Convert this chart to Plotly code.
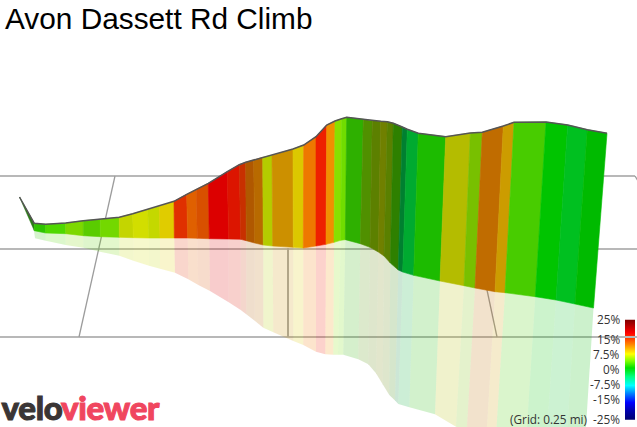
import plotly.graph_objects as go

TITLE = "Avon Dassett Rd Climb"

# Road surface along the top of the wall, one entry per gradient segment edge
top_x = [34.3,45.7,65.7,83.3,100.3,119.3,132.7,147.7,159.3,174,186.7,196.3,208.3,227.3,239.3,245.7,253.7,262.7,272,293,303.7,316,326.7,335,341.7,346.7,363.3,372.3,380.7,387.3,393.3,402.3,407.3,418.3,445.7,470.3,482.3,503.3,514,546,567.7,587.3,607]
top_y = [223.3,224.3,223,220.7,219.3,217.3,213.7,209.3,206.3,201.3,194.3,189.3,183.3,171.7,164.7,162.3,160,157.3,155.3,149,145,136.7,125,121,118.7,117.3,119.3,120.7,121.3,121.7,123.3,127,129.3,133.3,136.7,133,132.3,126,122.3,122,125,129.7,133.3]

# Foot of the wall
base_x = [34.3,45.7,65.7,83.3,100.3,119.3,133.3,149,160,174.3,187.7,197.3,209.3,228.7,240.7,246.3,254.7,263.3,272.7,293.3,303.3,316,326,334,340.7,345.3,360.3,370,378.3,384,390.3,398.3,402.7,413.7,440,464,475,495,505,535.3,556,575,593.5]
base_y = [230.7,233,233.7,235.7,236.7,237.3,237.7,238,238,238,238,238.3,238.7,239,239.3,240.7,243,245,246,247.3,248,246,244.3,242.3,240.3,239.7,243.7,247.3,252,256,263,270,272,275.3,281,285.7,288,291.7,292.7,296.7,300,304,308]

# Lower edge of the faded mirror image on the ground
mirror_x = [35,45.7,65.7,83.3,100,119.3,133.3,149,160,175,188.3,198.3,210,228.7,240.7,246.3,254.7,263.3,273.3,293.3,303.3,316,325.3,333.3,338,343.3,358.3,368.3,376,382.7,389.3,395,398.3,409.3,435,456,466.7,486.3,495.7,525.7,545.7,565.7,584]
mirror_y = [238.3,240.7,245,247.7,251.7,255.7,260.7,265.7,268.7,272.7,279.3,285,291,302.3,310,314.3,320.7,327.7,332.3,341,345,351.7,354.3,354.7,354.7,354.7,359.3,364.3,373.3,384.3,395,400.5,404,407.3,414.3,426.7,432,438,441,447,451,455,459]

# Colour of each stretch between neighbouring edges, following the gradient scale
segment_colors = ["#2FC400","#4FD800","#7DD800","#5ACC00","#73D800","#C4D500","#D2DE00","#C4D800","#E0CC00","#E03000","#E06000","#D85000","#DC0000","#DC1500","#C83000","#B05800","#B86A00","#B4CC00","#CC9000","#DCC800","#EE7800","#EE2000","#F09000","#88E000","#70DD00","#2EB000","#509000","#5C8000","#708000","#5A8000","#2E8000","#008030","#00AA30","#1CBB00","#B4BC00","#78C000","#C06C00","#CC9C00","#48CC00","#00C400","#00C020","#00BA00"]

# The steep first metres, drawn as a narrow sliver
spike_x = [19.5,34.3,34.3]
spike_y = [197,223.3,230.7]
SPIKE_COLOR = "#2C7A18"

# Ground grid lines as (x0, y0, x1, y1)
grid_h = [(0,176,225,176),(600,176,635,176),(0,249,375,249),(590,249,637,249),(0,337,637,337)]
grid_s = [(115,176,79,337),(487,290,497,337),(635,176,638,181)]
grid_v = [(288,248,288,337)]

# Gradient key
key_y = [320,333,344,354,361,368,376,385,393,402,410,419.3]
key_colors = ["#800000","#FF0000","#FF8000","#FFFF00","#80FF00","#00E000","#00FF80","#00FFFF","#0080FF","#0000FF","#0000B0","#000070"]
key_labels = ["25%","15%","7.5%","0%","-7.5%","-15%","-25%"]
key_label_y = [319,339,354,369,384,399,419]

def rgba(hex_color, a):
    r, g, b = (int(hex_color[i:i+2], 16) for i in (1, 3, 5))
    return f"rgba({r},{g},{b},{a})"

fig = go.Figure()

for x0, y0, x1, y1 in grid_h:
    fig.add_trace(go.Scatter(x=[x0, x1], y=[y0, y1], mode="lines", line=dict(color="#B8B8B8", width=2)))
for x0, y0, x1, y1 in grid_s:
    fig.add_trace(go.Scatter(x=[x0, x1], y=[y0, y1], mode="lines", line=dict(color="#9C9C9C", width=1.3)))
for x0, y0, x1, y1 in grid_v:
    fig.add_trace(go.Scatter(x=[x0, x1], y=[y0, y1], mode="lines", line=dict(color="#ABABAB", width=2)))

# Mirror image first, so the wall sits on top of it
fig.add_trace(go.Scatter(x=[spike_x[1], base_x[0], mirror_x[0]], y=[spike_y[1], base_y[0], mirror_y[0]],
                         fill="toself", mode="none", fillcolor=rgba("#2FC400", 0.2)))
for i, c in enumerate(segment_colors):
    xs = [base_x[i], base_x[i+1], mirror_x[i+1], mirror_x[i], base_x[i]]
    ys = [base_y[i], base_y[i+1], mirror_y[i+1], mirror_y[i], base_y[i]]
    fig.add_trace(go.Scatter(x=xs, y=ys, fill="toself", mode="none", fillcolor=rgba(c, 0.2)))

fig.add_trace(go.Scatter(x=spike_x + spike_x[:1], y=spike_y + spike_y[:1], fill="toself", mode="lines",
                         line=dict(color=SPIKE_COLOR, width=0.5), fillcolor=SPIKE_COLOR))
for i, c in enumerate(segment_colors):
    xs = [top_x[i], top_x[i+1], base_x[i+1], base_x[i], top_x[i]]
    ys = [top_y[i], top_y[i+1], base_y[i+1], base_y[i], top_y[i]]
    fig.add_trace(go.Scatter(x=xs, y=ys, fill="toself", mode="lines", line=dict(color=c, width=0.6), fillcolor=c))

# Road line along the top
fig.add_trace(go.Scatter(x=spike_x[:1] + top_x, y=spike_y[:1] + top_y, mode="lines",
                         line=dict(color="#555555", width=1.5)))

# Gradient key as a one-column heatmap
span = key_y[-1] - key_y[0]
scale = sorted([[(key_y[-1] - y) / span, c] for y, c in zip(key_y, key_colors)])
rows = [key_y[0] + k * 0.5 for k in range(int(span * 2) + 1)]
fig.add_trace(go.Heatmap(z=[[key_y[-1] - y] for y in rows], y=rows, x0=630, dx=10,
                         colorscale=scale, showscale=False, zmin=0, zmax=span, hoverinfo="skip"))

annotations = [
    dict(x=5, y=18.5, text=TITLE, xanchor="left", yanchor="middle",
         font=dict(family="Liberation Sans", size=29.8, color="#000000")),
    dict(x=587, y=419, text="(Grid: 0.25 mi)", xanchor="right", yanchor="middle",
         font=dict(family="Open Sans", size=11.8, color="#333333")),
    dict(x=32, y=407, text="velo", xanchor="center", yanchor="middle",
         font=dict(family="Lato", size=33, color="#3A3535", weight=900)),
    dict(x=110, y=407, text="viewer", xanchor="center", yanchor="middle",
         font=dict(family="Lato", size=33, color="#F0465F", weight=900)),
]
for label, y in zip(key_labels, key_label_y):
    annotations.append(dict(x=619.7, y=y, text=label, xanchor="right", yanchor="middle",
                            font=dict(family="Open Sans", size=11.8, color="#333333")))
for a in annotations:
    a.update(showarrow=False, xref="x", yref="y", borderpad=0, borderwidth=0)

fig.update_layout(
    width=637, height=427, margin=dict(l=0, r=0, t=0, b=0),
    paper_bgcolor="#FFFFFF", plot_bgcolor="#FFFFFF", showlegend=False,
    xaxis=dict(range=[0, 637], visible=False, fixedrange=True),
    yaxis=dict(range=[427, 0], visible=False, fixedrange=True),
    annotations=annotations,
)

# The wordmark is heavier and tighter than the installed font's black weight
HEAVY_WORDMARK = """
document.querySelectorAll('.annotation-text').forEach(function (t) {
  if (t.textContent === 'velo' || t.textContent === 'viewer') {
    t.style.letterSpacing = '-0.3px';
    t.style.stroke = t.style.fill;
    t.style.strokeWidth = '1px';
  }
});
"""
fig.write_html("out.html", config={"displayModeBar": False}, post_script=HEAVY_WORDMARK)
